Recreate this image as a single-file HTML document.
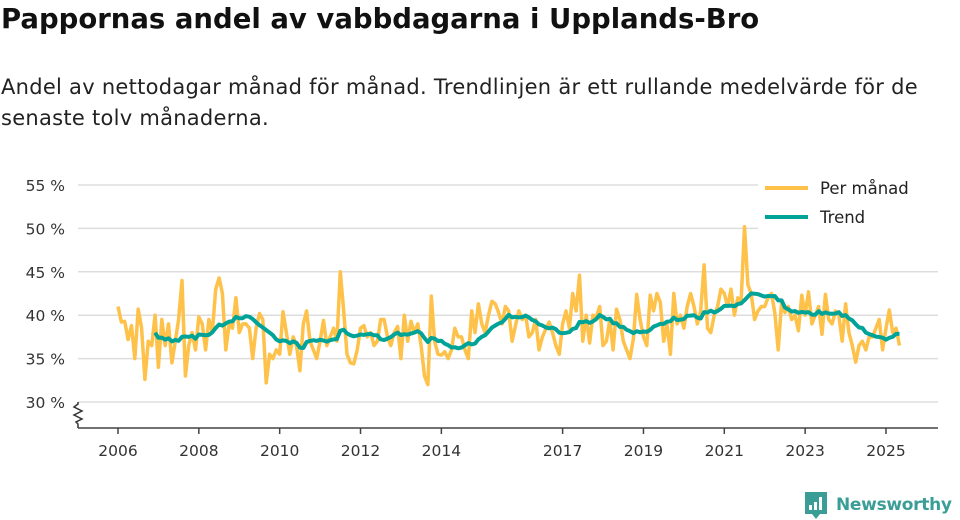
<!DOCTYPE html>
<html><head><meta charset="utf-8">
<style>
body{margin:0;background:#fff;width:960px;height:520px;overflow:hidden;font-family:"DejaVu Sans","Liberation Sans",sans-serif;color:#111;}
#title{position:absolute;left:1px;top:3px;font-size:27.5px;font-weight:bold;margin:0;letter-spacing:0px;white-space:nowrap}
#sub{position:absolute;left:1px;top:72px;font-size:21px;line-height:31px;margin:0;width:950px;color:#222;letter-spacing:0.27px;white-space:nowrap}
svg{position:absolute;left:0;top:0}
</style></head><body>
<h1 id="title">Pappornas andel av vabbdagarna i Upplands-Bro</h1>
<p id="sub">Andel av nettodagar månad för månad. Trendlinjen är ett rullande medelvärde för de<br>senaste tolv månaderna.</p>
<svg id="chart" width="960" height="520"></svg>
<script>
const yTicks=[30,35,40,45,50,55];
const xTickYears=[2006,2008,2010,2012,2014,2017,2019,2021,2023,2025];
const startYear=2006;
const perMonth=[
41,39.2,39.3,37.2,38.8,35,40.7,38.5,32.6,37,36.5,40,
34,39.5,36.5,39.0,34.5,37,39.5,44,33,36.5,38,36,
39.8,39,36,39.5,38,43,44.3,42.5,36,39,38.5,42,
38,39,39,38.5,35,38.5,40.2,39.5,32.2,35.5,35,36,
35.5,40.4,38,35.5,37.5,36.5,33.6,39,40.5,37,36,35,
37,39.4,36.5,37.5,38.5,37,45,40.5,35.5,34.5,34.4,36,
38.5,38.8,37.5,38,36.5,37,39.5,39.5,37.5,36.5,38,38.7,
35,40,37,39.3,38,39,36.4,33,32,42.2,37,35.5,
35.4,35.8,35,36,38.5,37.5,37.5,36,35,40.5,38,41.3,
39,38,40,41.6,41.3,40.3,39,41,40.5,37,38.8,40.5,
39.5,40,37.5,38,39.5,36,37.5,38.4,39.2,38,36.5,35.5,
39,40.5,38.5,42.5,40.5,44.6,37,40,36.8,40,39.8,41,
36.5,37,39.5,36,40.7,39.5,37,36,35,37.3,42.4,39.5,
37.5,36.5,42.3,40.5,42.5,41.5,37,39,35.5,42.5,39,40,
38.5,41,42.5,41,39,40.5,45.8,38.5,38,40,41,43,
42.5,41,43,40,42,41.5,50.2,43.5,42.5,39.5,40.5,41,
41,42,42.5,40.3,36,41.5,40.3,41,39.5,40,38.2,42.3,
40,42.7,39,40,41,37.8,42.4,39.5,39,40.5,40,37,
41.3,38,36.5,34.6,36.5,37,36,37.5,37.5,38.5,39.5,36,
38.5,40.6,38,38.5,36.5];
const NS="http://www.w3.org/2000/svg";
const svg=document.getElementById('chart');
const X0=118, PXY=40.42;
function xs(i){return X0+i*PXY/12;}
function xYear(y){return X0+(y-startYear)*PXY;}
function ys(v){return 402-(v-30)*8.68;}
function mk(tag,attrs){const e=document.createElementNS(NS,tag);for(const k in attrs)e.setAttribute(k,attrs[k]);svg.appendChild(e);return e;}
yTicks.forEach(t=>{
  const g=mk('line',{x1:78,x2:938,y1:ys(t),y2:ys(t),stroke:'#ddd','stroke-width':1.5});
  
  
  const l=mk('text',{x:65,y:ys(t)+6,'text-anchor':'end','font-size':15.5,fill:'#333'});
  l.textContent=t+' %';
  
  
});
const ax=mk('line',{x1:78,x2:938,y1:428,y2:428,stroke:'#444','stroke-width':1.5});


const br=mk('path',{d:'M78,402 L78,404 L74,407 L82,411 L74,415 L82,419 L76,422 L78,424 L78,428',fill:'none',stroke:'#333','stroke-width':1.5});


xTickYears.forEach(y=>{
  const x=xYear(y);
  const t=mk('line',{x1:x,x2:x,y1:428,y2:434,stroke:'#444','stroke-width':1.5});
  
  
  const l=mk('text',{x:x,y:456,'text-anchor':'middle','font-size':15.5,fill:'#333'});
  l.textContent=y;
  
  
});
const p1=mk('path',{d:perMonth.map((v,i)=>(i?'L':'M')+xs(i).toFixed(1)+','+ys(v).toFixed(1)).join(''),fill:'none',stroke:'#fec14a','stroke-width':3.5,'stroke-linejoin':'round'});


let d='';
for(let i=11;i<perMonth.length;i++){
  let s=0;for(let j=i-11;j<=i;j++)s+=perMonth[j];
  d+=(i>11?'L':'M')+xs(i).toFixed(1)+','+ys(s/12).toFixed(1);
}
const p2=mk('path',{d:d,fill:'none',stroke:'#00a398','stroke-width':4,'stroke-linejoin':'round'});


const lb=mk('rect',{x:758,y:172,width:182,height:58,fill:'#fff'});


[['Per månad','#fec14a',188],['Trend','#00a398',217]].forEach(([n,c,y])=>{
  const s=mk('line',{x1:765,x2:808,y1:y,y2:y,stroke:c,'stroke-width':4});
  
  
  const t=mk('text',{x:820,y:y+6,'font-size':16.5,fill:'#222'});
  t.textContent=n;
  
  
});
const lg=mk('g',{});


lg.innerHTML='<path d="M805,492 h22 v22 h-7 l-4,5 l-4,-5 h-7 z" fill="#3a9e96"/><rect x="809" y="505" width="3" height="5" fill="#fff"/><rect x="814" y="502" width="3" height="8" fill="#fff"/><rect x="819" y="497" width="3" height="13" fill="#fff"/><text x="836" y="510" font-size="17" fill="#3a9e96" font-weight="bold" textLength="116">Newsworthy</text>';
</script>
</body></html>
